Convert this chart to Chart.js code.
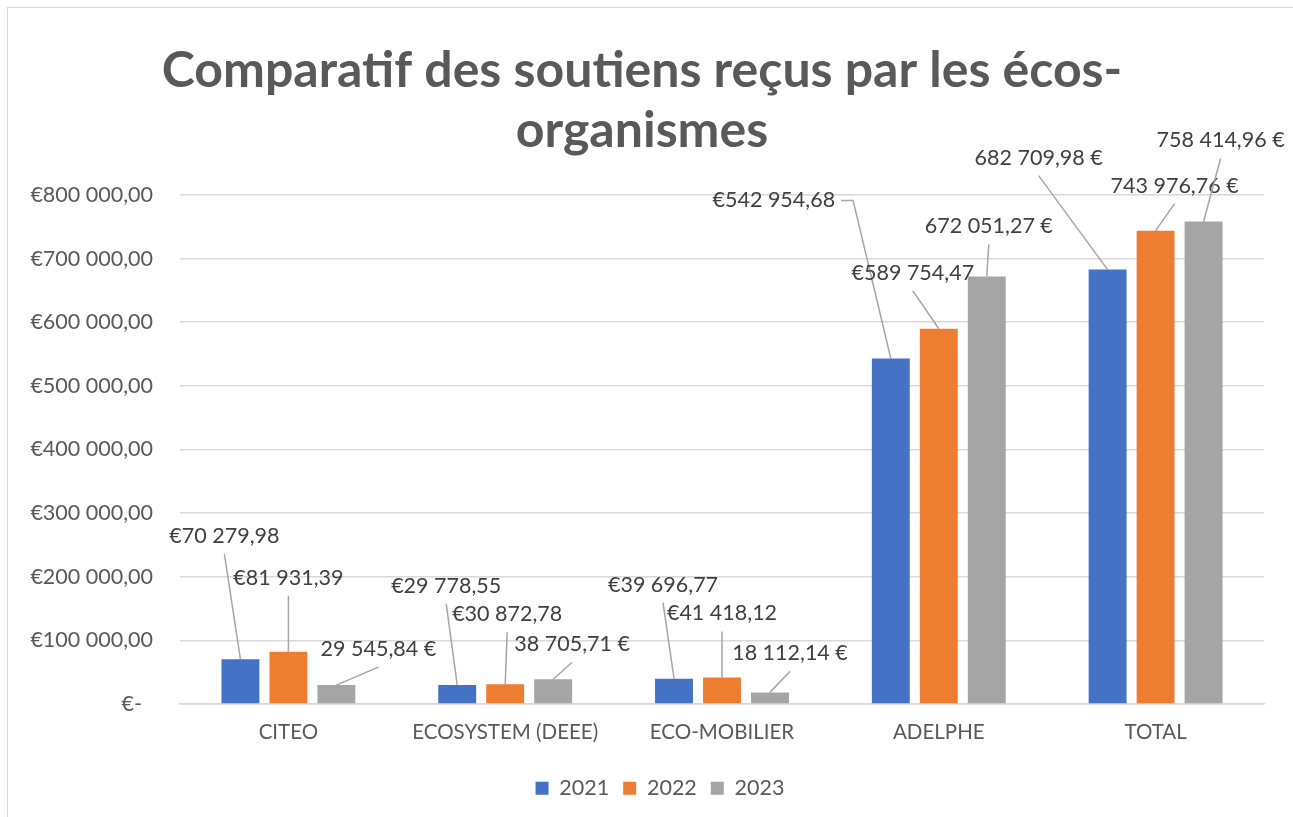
<!DOCTYPE html>
<html lang="fr">
<head>
<meta charset="utf-8">
<title>Comparatif des soutiens reçus par les écos-organismes</title>
<script src="https://cdn.jsdelivr.net/npm/chart.js@4.4.1/dist/chart.umd.min.js"></script>
<style>
    html, body {
        margin: 0;
        padding: 0;
        background: #ffffff;
        overflow: hidden;
    }
    #frame {
        position: absolute;
        left: 7px;
        top: 7px;
        width: 1285px;
        height: 840px;
        border: 1px solid #d9d9d9;
    }
    #wrap {
        position: absolute;
        left: 0;
        top: 0;
        width: 1293px;
        height: 817px;
    }
</style>
</head>
<body>
<div id="frame"></div>
<div id="wrap"><canvas id="soutiensChart" width="1293" height="817"></canvas></div>

<script>
// Data
const categories = ['CITEO', 'ECOSYSTEM (DEEE)', 'ECO-MOBILIER', 'ADELPHE', 'TOTAL'];
const years = ['2021', '2022', '2023'];

const values2021 = [70279.98, 29778.55, 39696.77, 542954.68, 682709.98];
const values2022 = [81931.39, 30872.78, 41418.12, 589754.47, 743976.76];
const values2023 = [29545.84, 38705.71, 18112.14, 672051.27, 758414.96];

// How each data label writes the euro sign: 'pre' = €1 234,56 / 'suf' = 1 234,56 €
const labelStyle2021 = ['pre', 'pre', 'pre', 'pre', 'suf'];
const labelStyle2022 = ['pre', 'pre', 'pre', 'pre', 'suf'];
const labelStyle2023 = ['suf', 'suf', 'suf', 'suf', 'suf'];

const yTicks = [0, 100000, 200000, 300000, 400000, 500000, 600000, 700000, 800000];

// Label placement (pixels from the top centre of each bar), as in the reference
const labelOffsets = [
    [[-16, -123], [-11, -99], [-11, -94], [-117, -158], [-69, -112]],
    [[0, -74], [2, -70], [0, -64], [-26, -56], [19, -45]],
    [[42, -36], [19, -35], [20, -39], [2, -50], [17, -81]]
];

const colors = ['#4472C4', '#ED7D31', '#A5A5A5'];
const textColor = '#595959';
const FONT = "Lato, 'Liberation Sans', sans-serif";

/**
 * Format a number as "70 279,98"
 */
function frNumber(value, decimals) {
    const parts = value.toFixed(decimals).split('.');
    const intPart = parts[0].replace(/\B(?=(\d{3})+(?!\d))/g, ' ');
    return decimals > 0 ? intPart + ',' + parts[1] : intPart;
}

function euroLabel(value, style) {
    const num = frNumber(value, 2);
    return style === 'pre' ? '€' + num : num + ' €';
}

/**
 * Data labels with leader lines (Excel style callouts)
 */
const calloutPlugin = {
    id: 'callouts',
    afterDatasetsDraw(chart) {
        const ctx = chart.ctx;
        const styles = [labelStyle2021, labelStyle2022, labelStyle2023];
        ctx.save();
        ctx.font = '21.5px ' + FONT;
        ctx.textAlign = 'center';
        ctx.textBaseline = 'middle';

        chart.data.datasets.forEach((ds, di) => {
            const meta = chart.getDatasetMeta(di);
            meta.data.forEach((bar, i) => {
                const text = euroLabel(ds.data[i], styles[di][i]);
                const off = labelOffsets[di][i];
                const lx = bar.x + off[0];
                const ly = bar.y + off[1];
                const w = ctx.measureText(text).width;

                // leader line
                ctx.strokeStyle = '#a6a6a6';
                ctx.lineWidth = 1.5;
                ctx.beginPath();
                if (bar.x > lx + w / 2 + 20) {
                    ctx.moveTo(lx + w / 2 + 6, ly);
                    ctx.lineTo(lx + w / 2 + 18, ly);
                } else {
                    ctx.moveTo(lx, ly + 18);
                }
                ctx.lineTo(bar.x, bar.y);
                ctx.stroke();

                ctx.fillStyle = '#404040';
                ctx.fillText(text, lx, ly);
            });
        });
        ctx.restore();
    }
};

/**
 * Nudge the legend a little to the right, like the original
 */
const legendShift = {
    id: 'legendShift',
    afterLayout(chart) {
        if (!chart.legend) return;
        chart.legend.left += 18;
        chart.legend.right += 18;
    }
};

const ctx = document.getElementById('soutiensChart');

new Chart(ctx, {
    type: 'bar',
    data: {
        labels: categories,
        datasets: [
            { label: years[0], data: values2021, backgroundColor: colors[0] },
            { label: years[1], data: values2022, backgroundColor: colors[1] },
            { label: years[2], data: values2023, backgroundColor: colors[2] }
        ]
    },
    options: {
        responsive: false,
        animation: false,
        devicePixelRatio: 1,
        categoryPercentage: 0.664,
        barPercentage: 0.79,
        layout: {
            padding: { top: 0, left: 20, right: 29, bottom: 8 }
        },
        plugins: {
            title: {
                display: true,
                text: ['Comparatif des soutiens reçus par les écos-', 'organismes'],
                color: textColor,
                font: { family: FONT, size: 50, weight: 'bold', lineHeight: 1.2 },
                padding: { top: 41, bottom: 34 }
            },
            legend: {
                display: true,
                position: 'bottom',
                labels: {
                    color: textColor,
                    font: { family: FONT, size: 21.5 },
                    boxWidth: 13,
                    boxHeight: 13,
                    padding: 14
                }
            },
            tooltip: { enabled: false }
        },
        scales: {
            x: {
                afterFit: function (scale) {
                    scale.height += 3;
                },
                grid: { display: false, drawTicks: false },
                border: { display: true, color: '#d9d9d9', width: 1.5 },
                ticks: {
                    color: textColor,
                    font: { family: FONT, size: 20.5 },
                    padding: 16,
                    maxRotation: 0
                }
            },
            y: {
                min: 0,
                max: 800000,
                afterFit: function (scale) {
                    scale.width = 160;
                },
                afterBuildTicks: function (scale) {
                    scale.ticks = yTicks.map(v => ({ value: v }));
                },
                border: { display: false },
                grid: {
                    color: '#d9d9d9',
                    lineWidth: 1.5,
                    drawTicks: false
                },
                ticks: {
                    color: textColor,
                    font: { family: FONT, size: 21.5 },
                    padding: 27,
                    callback: function (value) {
                        if (value === 0) return '€-  ';
                        return '€' + frNumber(value, 0) + ',00';
                    }
                }
            }
        }
    },
    plugins: [calloutPlugin, legendShift]
});
</script>
</body>
</html>
